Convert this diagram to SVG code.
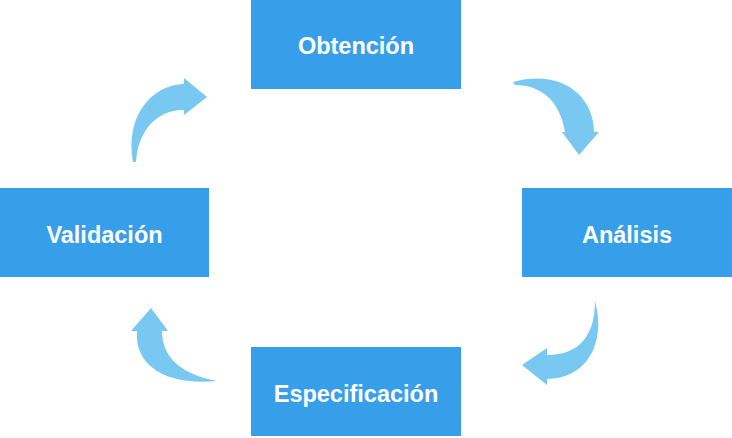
<svg xmlns="http://www.w3.org/2000/svg" width="732" height="438" viewBox="0 0 732 438">
<style>
.box{fill:#379FEA}
.lbl{fill:#fff;font-family:"Liberation Sans",Arial,sans-serif;font-weight:bold;font-size:23.5px;text-anchor:middle}
.arr{fill:#79C8F1}
</style>
<rect width="732" height="438" fill="#fff"/>
<g id="obtencion"><rect class="box" x="251" y="0" width="210" height="89"/><text class="lbl" x="356" y="54">Obtención</text></g>
<g id="analisis"><rect class="box" x="522" y="188" width="210" height="89"/><text class="lbl" x="627" y="243">Análisis</text></g>
<g id="especificacion"><rect class="box" x="251" y="347" width="210" height="89"/><text class="lbl" x="356" y="402">Especificación</text></g>
<g id="validacion"><rect class="box" x="0" y="188" width="209" height="89"/><text class="lbl" x="104.5" y="243">Validación</text></g>
<g id="connectors">
<path class="arr" d="M133,162 C125,118 150,85 184,84 L184,78 L207,97 L184,115 L184,110 C160,109 138,128 136,162 Z"/>
<path class="arr" d="M513,82 C560,69 594,95 594,132 L599,132 L579,155 L562,132 L565,132 C560,100 540,85 515,85 Z"/>
<path class="arr" d="M595,301 C607,345 585,379 547,379 L547,385 L522,365 L547,348 L547,355 C580,355 595,335 595,301 Z"/>
<path class="arr" d="M217,381 C165,386 134,365 137,331 L131,331 L151,308 L168,331 L162,331 C162,360 185,375 217,381 Z"/>
</g>
</svg>
